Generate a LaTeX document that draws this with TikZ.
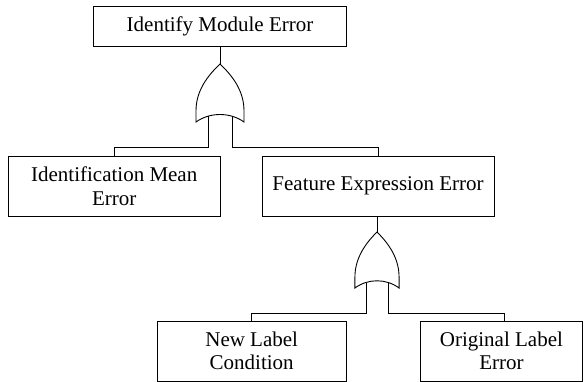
\documentclass[tikz,border=0pt]{standalone}
\usepackage{fontspec}
\setmainfont{Liberation Serif}
\newfontfamily\tnr{Liberation Serif}
\begin{document}
\begin{tikzpicture}[x=1pt,y=-1pt,line width=0.9pt,
  box/.style={draw,rectangle,align=center,inner sep=0pt,minimum height=60pt,font=\tnr\fontsize{21}{23.5}\selectfont},
  orgate/.pic={
    \draw (0,0) .. controls (-16,15) and (-24,30) .. (-24,47) -- (-24,58)
          .. controls (-10,48) and (10,48) .. (24,58) -- (24,47)
          .. controls (24,30) and (16,15) .. (0,0) -- cycle;
    \coordinate (-tip) at (0,0);
    \coordinate (-l) at (-12,52.3);
    \coordinate (-r) at (12,52.3);
  }]
\useasboundingbox (0,0) rectangle (586,382);
\node[box,minimum width=253.4pt,minimum height=40pt] (top) at (220,26.7) {Identify Module Error};
\node[box,minimum width=211.7pt] (ime) at (114.2,186) {Identification Mean\\Error};
\node[box,minimum width=232pt] (fee) at (378,186) {Feature Expression Error};
\node[box,minimum width=188.7pt] (nlc) at (251.7,351) {New Label\\Condition};
\node[box,minimum width=162.7pt] (ole) at (501.4,351) {Original Label\\Error};
\pic (g1) at (220,64) {orgate};
\pic[xscale=0.92,yscale=0.966] (g2) at (377,232) {orgate};
\coordinate (b1) at (0,147.5);
\coordinate (b2) at (0,313);
\draw (top.south) -- (g1-tip);
\draw (g1-l) -- (g1-l |- b1) -| (ime.north);
\draw (g1-r) -- (g1-r |- b1) -| (fee.north);
\draw (fee.south -| g2-tip) -- (g2-tip);
\draw (g2-l) -- (g2-l |- b2) -| (nlc.north);
\draw (g2-r) -- (g2-r |- b2) -| ([xshift=3pt]ole.north);
\end{tikzpicture}
\end{document}
